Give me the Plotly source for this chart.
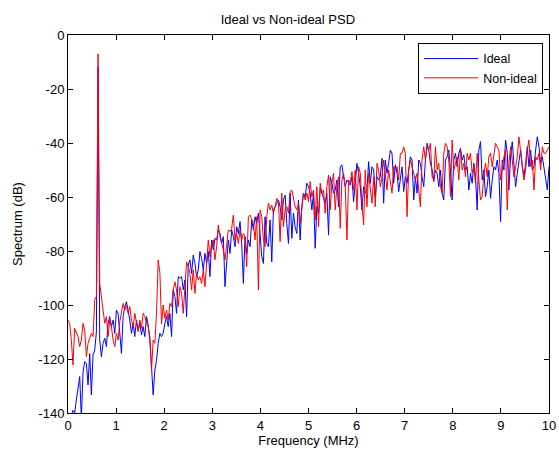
import numpy as np
import plotly.graph_objects as go

title = "Ideal vs Non-ideal PSD"
x_label = "Frequency (MHz)"
y_label = "Spectrum (dB)"
series_names = ["Ideal", "Non-ideal"]
f_max = 10.0

ideal_db = [
    -146, -144, -141, -139, -140, -135.2, -130.2, -126.5, -142, -125,
    -121, -121.6, -129.6, -118, -133.3, -118.5, -116.7, -110, -12, -113,
    -119.1, -114.2, -112.3, -115.4, -106.8, -104.3, -108, -105.6, -110.5, -101.9,
    -103.1, -111.7, -117.9, -104.3, -100.6, -98.8, -101.9, -105.6, -110.5, -106.8,
    -111.7, -105.6, -109.3, -106.8, -111.1, -108, -111.7, -104.3, -107.4, -113,
    -122.8, -133.3, -124.1, -120.4, -114.2, -110.5, -111.7, -110.5, -106.8, -104.3,
    -108,
    -103.1, -111.7, -94.4, -96.9, -103.1, -89.5, -90.1, -89.5, -94.4,
    -90.7, -104.3, -85.2, -83.3, -88.3, -81.5, -84.6, -89.5, -87.0, -80.2,
    -82.7, -87.0, -80.9, -84.6, -80.2, -89.5, -75.9, -79.6, -75.3, -75.9,
    -72.2, -73.5, -77.2, -74.7, -93.2, -82.1, -75.9, -80.9, -72.2, -74.7,
    -78.4, -71.0, -73.5, -69.1, -77.2, -92.0, -74.7, -80.9, -75.9, -78.4,
    -68.5, -72.2, -67.3, -69.8, -66.0, -73.5, -82.1, -84.6,
    -67.3, -77.2, -78.4, -68.5, -84.0, -64.8, -63.6, -62.3, -61.1, -63.6,
    -68.5, -61.1, -59.3, -69.8, -77.2, -58.6, -75.3, -66.0, -71.0, -73.5,
    -61.1, -75.9, -63.6, -58.6, -59.9, -54.9, -56.2, -58.6, -64.8, -58.6,
    -79.0, -63.6, -66.0, -56.8, -58.6, -59.9, -62.3, -58.6, -74.1, -52.5,
    -54.9, -58.6, -57.4, -53.7, -63.6, -48.8, -48.1, -52.5, -56.2, -53.7,
    -54.9, -55.6, -52.5, -61.7, -54.9, -47.5, -51.2, -56.2,
    -64.8, -56.2, -58.6, -57.4, -46.9, -54.9, -48.8, -50.0, -59.9, -52.5,
    -53.7, -52.5, -45.7, -62.3, -46.3, -51.2, -47.5, -42.6, -43.8, -54.9,
    -48.1, -51.2, -58.0, -52.5, -48.8, -58.0, -52.5, -54.9, -50.0, -45.1,
    -46.3, -61.1, -52.5, -58.6, -46.3, -47.5, -52.5, -56.2, -46.3, -40.1,
    -42.6, -47.5, -50.0, -54.3, -50.0, -51.2, -56.2, -50.0, -58.6, -61.1,
    -46.3, -45.1, -42.6, -50.0, -61.1, -46.3, -43.8,
    -48.8, -43.8, -42.0, -46.3, -44.4, -50.0, -48.8, -57.4, -51.2, -54.9,
    -47.5, -52.5, -64.8, -42.6, -39.5, -53.7, -50.0, -59.9, -56.2, -50.0,
    -60.5, -53.7, -48.8, -50.0, -46.3, -51.2, -69.1, -46.3, -50.0, -38.9,
    -43.8, -57.4, -45.1, -39.5, -48.8, -56.2, -51.2, -46.3, -42.6, -48.8,
    -52.5, -47.5, -41.4, -48.8, -42.6, -50.0, -48.8, -42.6, -37.7, -41.4,
    -47.5, -45.1, -48.8, -52.5, -57.4, -48.8,
]

nonideal_db = [
    -105.6, -106.8, -113.0, -122.2, -108.6, -109.9, -111.7, -115.4, -113.0, -106.8,
    -109.3, -119.1, -114.2, -112.3, -110.5, -111.7, -98.1, -96.9, -7, -92.0,
    -96.9, -100.6, -106.8, -104.3, -111.7, -105.6, -108.0, -113.0, -115.4, -110.5,
    -113.0, -106.2, -103.1, -99.4, -101.9, -100.0, -103.1, -100.6, -105.6, -108.0,
    -103.1, -106.8, -109.9, -105.6, -108.6, -103.1, -104.3, -106.8, -108.0, -111.7,
    -124.1, -113.0, -114.2, -103.1, -83.3, -88, -107, -100, -104.9, -101.9,
    -105.6,
    -99.4, -100.6, -94.4, -91.4, -94.4, -100.6, -93.2, -95.7, -103.1,
    -92.0, -84.0, -85.8, -88.3, -94.4, -87.0, -95.7, -88.3, -90.7, -89.5,
    -92.0, -87.0, -93.2, -85.8, -75.9, -82.1, -77.2, -75.9, -83.3, -78.4,
    -70.4, -74.7, -77.2, -79.6, -83.3, -77.2, -72.2, -72.8, -71.6, -66.7,
    -75.9, -73.5, -77.2, -72.2, -75.9, -73.5, -74.7, -85.8, -67.3, -66.7,
    -68.5, -69.8, -75.9, -67.3, -94.4, -64.8, -67.3, -75.9,
    -78.4, -67.3, -62.3, -64.8, -63.0, -66.0, -63.6, -60.5, -61.7, -76.5,
    -58.6, -71.0, -64.8, -63.6, -66.0, -58.0, -57.4, -61.1, -63.6, -64.8,
    -62.3, -69.8, -63.6, -58.6, -61.1, -58.6, -61.7, -54.3, -59.9, -57.4,
    -68.5, -56.2, -71.0, -54.9, -58.6, -57.4, -66.0, -56.2, -51.9, -64.8,
    -54.9, -51.2, -64.8, -56.2, -52.5, -71.6, -53.7, -51.2, -56.2, -75.9,
    -53.7, -54.9, -50.6, -57.4, -50.0, -64.8, -48.8, -51.2,
    -62.3, -70.4, -50.0, -63.6, -51.2, -56.2, -62.3, -52.5, -63.6, -47.5,
    -50.0, -56.2, -52.5, -46.3, -52.5, -57.4, -50.0, -53.7, -58.6, -48.8,
    -50.0, -48.8, -53.7, -43.8, -43.8, -41.4, -43.8, -67.3, -50.0, -46.3,
    -48.8, -51.2, -53.7, -51.2, -57.4, -63.6, -46.3, -41.4, -46.3, -41.4,
    -42.6, -40.1, -52.5, -53.7, -41.4, -50.0, -47.5, -56.2, -58.6, -43.8,
    -40.1, -41.4, -46.3, -59.9, -38.9, -50.0, -47.5,
    -45.1, -53.7, -42.6, -50.0, -47.5, -52.5, -43.8, -46.3, -43.8, -51.2,
    -48.8, -54.9, -43.8, -53.7, -61.1, -59.9, -51.2, -47.5, -52.5, -45.1,
    -43.8, -48.8, -43.8, -40.1, -41.4, -42.6, -53.7, -48.8, -45.1, -42.6,
    -64.8, -47.5, -41.4, -46.3, -52.5, -48.8, -45.1, -37.7, -43.8, -48.8,
    -53.7, -50.0, -42.6, -38.9, -48.8, -46.3, -57.4, -45.1, -46.3, -43.8,
    -50.0, -41.4, -43.8, -43.8, -42.6, -41.4,
]

x_ticks = [0, 1, 2, 3, 4, 5, 6, 7, 8, 9, 10]
y_ticks = [0, -20, -40, -60, -80, -100, -120, -140]

freq_ideal = np.linspace(0, f_max, len(ideal_db))
freq_nonideal = np.linspace(0, f_max, len(nonideal_db))

font_family = "Liberation Sans, Arial, sans-serif"
fs = 13

fig = go.Figure()
fig.add_trace(go.Scatter(x=freq_ideal, y=ideal_db, mode="lines", name=series_names[0],
                         line=dict(color="#0000ff", width=1)))
fig.add_trace(go.Scatter(x=freq_nonideal, y=nonideal_db, mode="lines", name=series_names[1],
                         line=dict(color="#ff0000", width=1)))

axis_common = dict(showline=True, linecolor="black", linewidth=1, mirror="ticks",
                   ticks="inside", ticklen=5, tickcolor="black", showgrid=False,
                   zeroline=False, automargin=False,
                   tickfont=dict(family=font_family, size=fs, color="black"))

fig.update_layout(
    width=559, height=453,
    margin=dict(l=68, r=10, t=35, b=40),
    paper_bgcolor="white", plot_bgcolor="white",
    font=dict(family=font_family, size=fs, color="black"),
    title=dict(text=title, x=0.515, xanchor="center", y=0.956, yanchor="middle",
               font=dict(family=font_family, size=fs, color="black")),
    xaxis=dict(range=[0, 10], tickvals=x_ticks, ticktext=[str(v) for v in x_ticks],
               title=dict(text=x_label, standoff=4, font=dict(size=fs)), **axis_common),
    yaxis=dict(range=[-140, 0], tickvals=y_ticks, ticktext=[str(v) for v in y_ticks],
               title=dict(text=y_label, standoff=12, font=dict(size=fs)), **axis_common),
    legend=dict(x=0.728, y=0.979, xanchor="left", yanchor="top",
                bordercolor="black", borderwidth=1, bgcolor="white",
                itemwidth=54,
                font=dict(family=font_family, size=12.5, color="black"),
                tracegroupgap=0),
    showlegend=True,
)

fig.write_html("out.html",
               config={"displayModeBar": False},
               post_script="document.body.style.margin='0';document.body.style.overflow='hidden';")
